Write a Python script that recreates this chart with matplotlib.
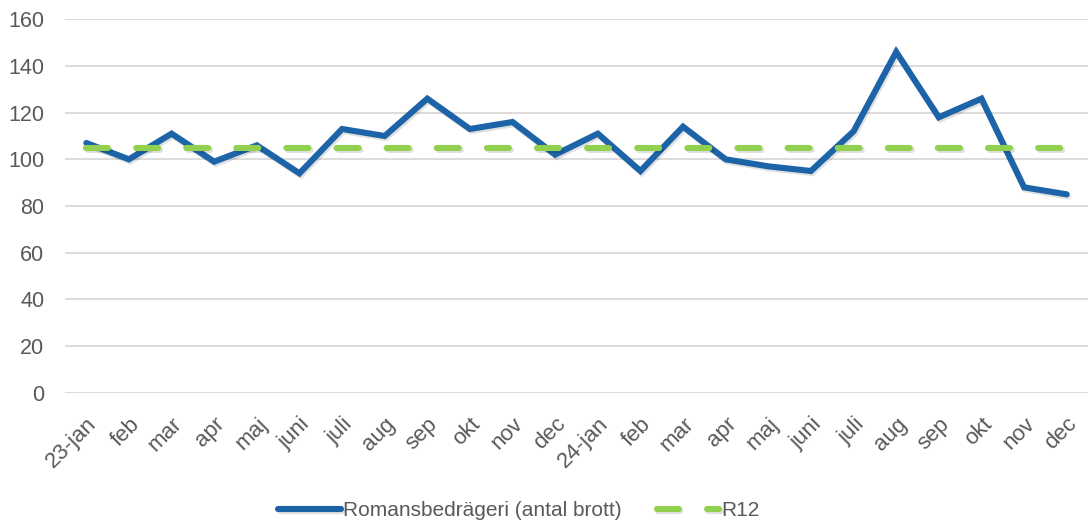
import matplotlib
matplotlib.use("Agg")
import matplotlib.pyplot as plt
import matplotlib.patheffects as pe
from matplotlib.transforms import ScaledTranslation

months = ["23-jan", "feb", "mar", "apr", "maj", "juni", "juli", "aug", "sep", "okt", "nov", "dec",
          "24-jan", "feb", "mar", "apr", "maj", "juni", "juli", "aug", "sep", "okt", "nov", "dec"]
romans = [107, 100, 111, 99, 106, 94, 113, 110, 126, 113, 116, 102,
          111, 95, 114, 100, 97, 95, 112, 146, 118, 126, 88, 85]
r12 = [105] * 24
yticks = [0, 20, 40, 60, 80, 100, 120, 140, 160]

plt.rcParams['font.family'] = ['Liberation Sans', 'DejaVu Sans']

W, H = 1088, 524
fig = plt.figure(figsize=(W / 100, H / 100), dpi=100)
ax = fig.add_axes([65 / W, 1 - 392.7 / H, (1088 - 65) / W, (392.7 - 19.3) / H])

x = list(range(len(months)))
shadow = [pe.SimpleLineShadow(offset=(1.0, -1.5), shadow_color='black', alpha=0.12), pe.Normal()]

l1, = ax.plot(x, romans, color='#1c63a8', lw=4.4, solid_joinstyle='miter',
              solid_capstyle='round', path_effects=shadow, label='Romansbedrägeri (antal brott)', zorder=3)
l2, = ax.plot(x, r12, color='#92d050', lw=4.4, ls=(0, (3.6, 4.6)), dash_capstyle='round',
              path_effects=shadow, label='R12', zorder=4)

ax.set_xlim(-0.5, len(months) - 0.5)
ax.set_ylim(0, 160)
ax.set_yticks(yticks)
ax.set_xticks(x)
ax.set_xticklabels(months, rotation=45, ha='right', va='top', rotation_mode='anchor')
off = ScaledTranslation(-4 / 100, 0, fig.dpi_scale_trans)
for lab in ax.get_xticklabels():
    lab.set_transform(lab.get_transform() + off)
ax.grid(axis='y', color='#d9d9d9', lw=1.3)
ax.set_axisbelow(True)
for s in ax.spines.values():
    s.set_visible(False)
ax.tick_params(axis='both', length=0, labelsize=15.5, labelcolor='#595959')
ax.tick_params(axis='x', pad=15, labelsize=16)
ax.tick_params(axis='y', pad=15)

fig.legend(handles=[l1, l2], loc='center', bbox_to_anchor=(519 / W, 1 - 511 / H), ncol=2,
           frameon=False, fontsize=15, labelcolor='#595959', handlelength=3.0,
           handletextpad=0.1, columnspacing=1.7)

fig.savefig('out.png', dpi=100)
